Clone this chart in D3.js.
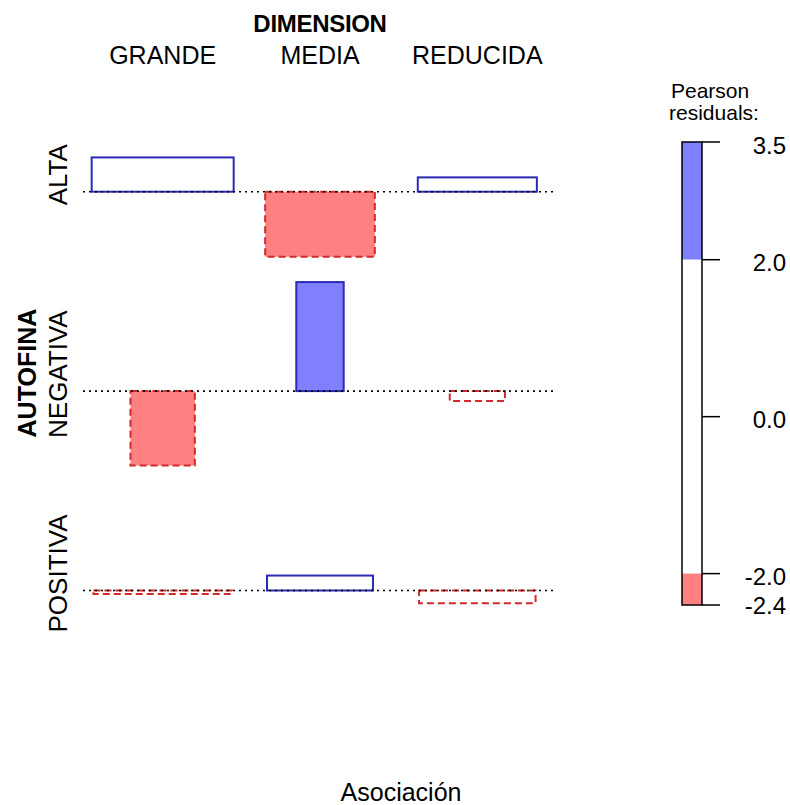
<!DOCTYPE html>
<html>
<head>
<meta charset="utf-8">
<script src="https://cdn.jsdelivr.net/npm/d3@7"></script>
<style>
  body { margin: 0; background: #fff; }
  text { font-family: "Liberation Sans", Arial, sans-serif; fill: #000; }
</style>
</head>
<body>
<div id="chart"></div>
<script>
// Data
const rows = ["ALTA", "NEGATIVA", "POSITIVA"];
const cols = ["GRANDE", "MEDIA", "REDUCIDA"];
// Pearson residuals, rows x cols
const residuals = [
  [1.10, -2.09, 0.46],
  [-2.39, 3.50, -0.32],
  [-0.11, 0.48, -0.41]
];
// expected counts (bar width ~ sqrt(expected))
const expected = [
  [40.4, 24.1, 28.4],
  [8.3, 4.5, 6.1],
  [38.4, 22.5, 27.2]
];
const legendTicks = [3.5, 2.0, 0.0, -2.0, -2.4];
const legendBins = [[2.0, 3.5], [-2.0, 2.0], [-2.4, -2.0]];

const W = 790, H = 805;
const blueFill = "#8080ff", redFill = "#ff8080", blueLine = "#2a2ab4", redLine = "#d02a2a";

const svg = d3.select("#chart").append("svg").attr("width", W).attr("height", H);

const cells = [];
rows.forEach((r, i) => cols.forEach((c, j) => cells.push({ row: r, col: c, res: residuals[i][j], exp: expected[i][j] })));

// Scales
const x = d3.scaleBand().domain(cols).range([84, 556]);
const y = d3.scalePoint().domain(rows).range([191.7, 590.5]);
const wScale = d3.scaleSqrt().domain([0, d3.max(cells, d => d.exp)]).range([0, 142]);
const hScale = d3.scaleLinear().domain([0, 3.5]).range([0, 109]);

const fillFor = v => v > 2 ? blueFill : v < -2 ? redFill : "#fff";

// Bars
svg.append("g")
  .selectAll("rect")
  .data(cells)
  .join("rect")
  .attr("x", d => x(d.col) + x.bandwidth() / 2 - wScale(d.exp) / 2)
  .attr("width", d => wScale(d.exp))
  .attr("y", d => d.res >= 0 ? y(d.row) - hScale(d.res) : y(d.row))
  .attr("height", d => hScale(Math.abs(d.res)))
  .attr("fill", d => fillFor(d.res))
  .attr("stroke", d => d.res >= 0 ? blueLine : redLine)
  .attr("stroke-width", 2)
  .attr("stroke-dasharray", d => d.res >= 0 ? null : "7,4");

// Dotted baselines
svg.append("g")
  .selectAll("line")
  .data(rows)
  .join("line")
  .attr("x1", x.range()[0] - 1)
  .attr("x2", x.range()[1] + 1)
  .attr("y1", d => y(d))
  .attr("y2", d => y(d))
  .attr("stroke", "#000")
  .attr("stroke-width", 1.6)
  .attr("stroke-dasharray", "2,4");

// Column labels
svg.append("text")
  .attr("x", x("MEDIA") + x.bandwidth() / 2)
  .attr("y", 32)
  .attr("text-anchor", "middle")
  .attr("font-weight", "bold")
  .attr("font-size", 24)
  .attr("letter-spacing", -0.3)
  .text("DIMENSION");

svg.append("g")
  .selectAll("text")
  .data(cols)
  .join("text")
  .attr("x", d => x(d) + x.bandwidth() / 2)
  .attr("y", 64)
  .attr("text-anchor", "middle")
  .attr("font-size", 25)
  .text(d => d);

// Row labels
svg.append("g")
  .selectAll("text")
  .data(rows)
  .join("text")
  .attr("transform", d => `translate(67,${y(d) - 17}) rotate(-90)`)
  .attr("text-anchor", "middle")
  .attr("font-size", 26)
  .text(d => d);

svg.append("text")
  .attr("transform", `translate(36,${y("NEGATIVA") - 18}) rotate(-90)`)
  .attr("text-anchor", "middle")
  .attr("font-weight", "bold")
  .attr("font-size", 25)
  .text("AUTOFINA");

// Bottom label
svg.append("text")
  .attr("x", 401)
  .attr("y", 801)
  .attr("text-anchor", "middle")
  .attr("font-size", 25)
  .text("Asociación");

// Legend
const ly = d3.scaleLinear().domain([-2.4, 3.5]).range([605, 142]);
const lx = 682, lw = 20;
const legend = svg.append("g");

legend.selectAll("rect.bin")
  .data(legendBins)
  .join("rect")
  .attr("class", "bin")
  .attr("x", lx)
  .attr("width", lw)
  .attr("y", d => ly(d[1]))
  .attr("height", d => ly(d[0]) - ly(d[1]))
  .attr("fill", d => fillFor((d[0] + d[1]) / 2));

legend.append("rect")
  .attr("x", lx).attr("width", lw)
  .attr("y", ly(3.5)).attr("height", ly(-2.4) - ly(3.5))
  .attr("fill", "none").attr("stroke", "#000").attr("stroke-width", 1.5);

legend.selectAll("line.tick")
  .data(legendTicks)
  .join("line")
  .attr("class", "tick")
  .attr("x1", lx + lw).attr("x2", lx + lw + 18)
  .attr("y1", d => ly(d)).attr("y2", d => ly(d))
  .attr("stroke", "#000").attr("stroke-width", 1.5);

legend.selectAll("text.tl")
  .data(legendTicks)
  .join("text")
  .attr("class", "tl")
  .attr("x", 786)
  .attr("y", d => ly(d) + (d === -2.4 ? 0 : 3))
  .attr("dy", "0.36em")
  .attr("text-anchor", "end")
  .attr("font-size", 24)
  .text(d => d.toFixed(1));

legend.append("text").attr("x", 671).attr("y", 98).attr("font-size", 21).text("Pearson");
legend.append("text").attr("x", 669).attr("y", 120).attr("font-size", 21).text("residuals:");
</script>
</body>
</html>
